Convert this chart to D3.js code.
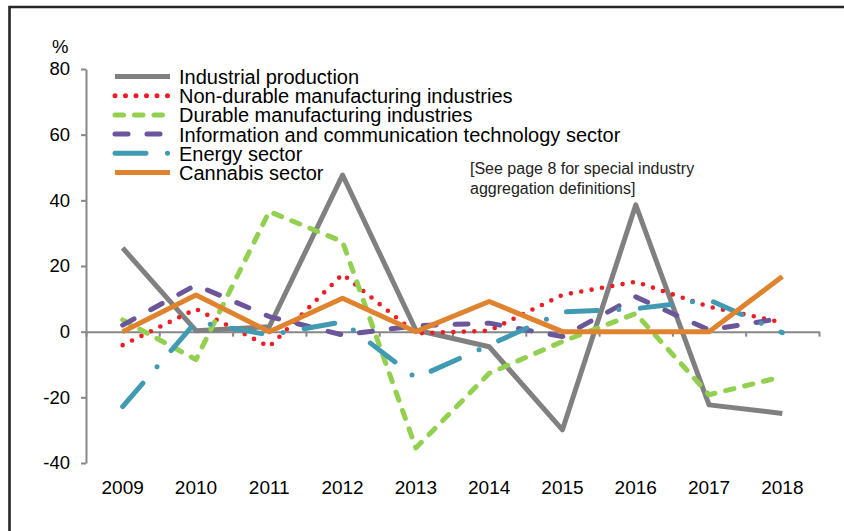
<!DOCTYPE html>
<html>
<head>
<meta charset="utf-8">
<script src="https://cdn.jsdelivr.net/npm/d3@7"></script>
<style>
  body { margin: 0; background: #fff; }
  svg { font-family: "Liberation Sans", Arial, sans-serif; }
  .axis path, .axis line { stroke: #878787; stroke-width: 2; }
  .axis text { fill: #000; }
</style>
</head>
<body>
<svg id="chart" width="844" height="531"></svg>
<script>
//Annual growth by industry aggregate, 2009-2018

var years = ["2009","2010","2011","2012","2013","2014","2015","2016","2017","2018"];
var yTicks = [-40,-20,0,20,40,60,80];

var industrial  = [25.5, 0.3, 1.5, 47.7, 0.5, -4.6, -29.9, 38.6, -22.3, -24.9];
var nonDurable  = [-4.1, 6.9, -4.6, 17.5, -0.5, 0.3, 11.2, 15.2, 7.6, 2.8];
var durable     = [3.6, -8.5, 36.6, 27.4, -35.4, -12.7, -3.0, 5.5, -19.2, -13.7];
var ict         = [2.0, 14.2, 4.6, -1.0, 1.8, 2.6, -1.5, 10.6, 0.5, 4.1];
var energy      = [-22.8, 3.0, -1.0, 3.0, -14.1, -4.1, 6.0, 7.0, 9.7, -0.3];
var cannabis    = [0, 11.2, 0, 10.2, 0, 9.2, 0, 0, 0, 16.8];

var seriesNames = ["Industrial production","Non-durable manufacturing industries","Durable manufacturing industries",
  "Information and communication technology sector","Energy sector","Cannabis sector"];
var seriesValues = [industrial, nonDurable, durable, ict, energy, cannabis];

//line styles, same order as names
var colors = ["#808080","#ee1d25","#92d050","#6a5698","#3f9ab2","#e0832f"];
var dashes = [null, "0,10.5", "8.5,11", "13,19", "31,21.5,0,21.5", null];
var caps   = ["butt","round","round","round","round","butt"];

var svg = d3.select("#chart");

//frame, cut off at right and bottom
svg.append("path")
  .attr("d","M9.5,531V7H844")
  .attr("fill","none")
  .attr("stroke","#262626")
  .attr("stroke-width",2.6);

let plotLeft = 86, plotRight = 819, plotTop = 69, plotBottom = 463;

let x = d3.scaleBand().domain(years).range([plotLeft,plotRight]);
let xEdges = d3.scaleLinear().domain([0,years.length]).range([plotLeft,plotRight]);
let y = d3.scaleLinear().domain([-40,80]).range([plotBottom,plotTop]);

//y axis
svg.append("g")
  .classed("axis",true)
  .attr("transform","translate("+plotLeft+",0)")
  .call(d3.axisLeft(y).tickValues(yTicks).tickSizeInner(5).tickSizeOuter(0).tickPadding(11).tickFormat(d => String(d)))
  .call(g => g.selectAll("text").attr("font-size",18.5).attr("font-family",null));

//x axis line with ticks between the years
svg.append("g")
  .classed("axis",true)
  .attr("transform","translate(0,"+y(0)+")")
  .call(d3.axisBottom(xEdges).ticks(years.length).tickSizeInner(5).tickSizeOuter(0).tickFormat(""));

//year labels at the bottom
svg.append("g")
  .classed("axis",true)
  .attr("transform","translate(0,480)")
  .call(d3.axisBottom(x).tickSize(0).tickPadding(0))
  .call(g => g.select(".domain").remove())
  .call(g => g.selectAll("text").attr("font-size",19).attr("font-family",null));

svg.append("text")
  .attr("x",52)
  .attr("y",53)
  .attr("font-size",18.5)
  .text("%");

//series
let line = d3.line()
  .x((d,i) => x(years[i]) + x.bandwidth()/2)
  .y(d => y(d));

seriesValues.forEach(function(vals,i){
  svg.append("path")
    .datum(vals)
    .attr("d",line)
    .attr("fill","none")
    .attr("stroke",colors[i])
    .attr("stroke-width",i==1 ? 4.6 : 5)
    .attr("stroke-linecap",caps[i])
    .attr("stroke-linejoin","round")
    .attr("stroke-dasharray",dashes[i]);
});

//legend
let legend = svg.append("g").attr("transform","translate(0,84)");
let rowH = 19.2;
seriesNames.forEach(function(name,i){
  let row = legend.append("g").attr("transform","translate(0,"+(i*rowH)+")");
  row.append("line")
    .attr("x1",115)
    .attr("x2",170)
    .attr("y1",-7.5)
    .attr("y2",-7.5)
    .attr("stroke",colors[i])
    .attr("stroke-width",5)
    .attr("stroke-linecap",caps[i])
    .attr("stroke-dasharray",dashes[i]);
  row.append("text")
    .attr("x",179)
    .attr("y",0)
    .attr("font-size",20)
    .text(name);
});

//note
let note = svg.append("text")
  .attr("x",470)
  .attr("y",174)
  .attr("font-size",16)
  .attr("fill","#222");
note.append("tspan").attr("x",470).text("[See page 8 for special industry");
note.append("tspan").attr("x",470).attr("dy",20).text("aggregation definitions]");
</script>
</body>
</html>
